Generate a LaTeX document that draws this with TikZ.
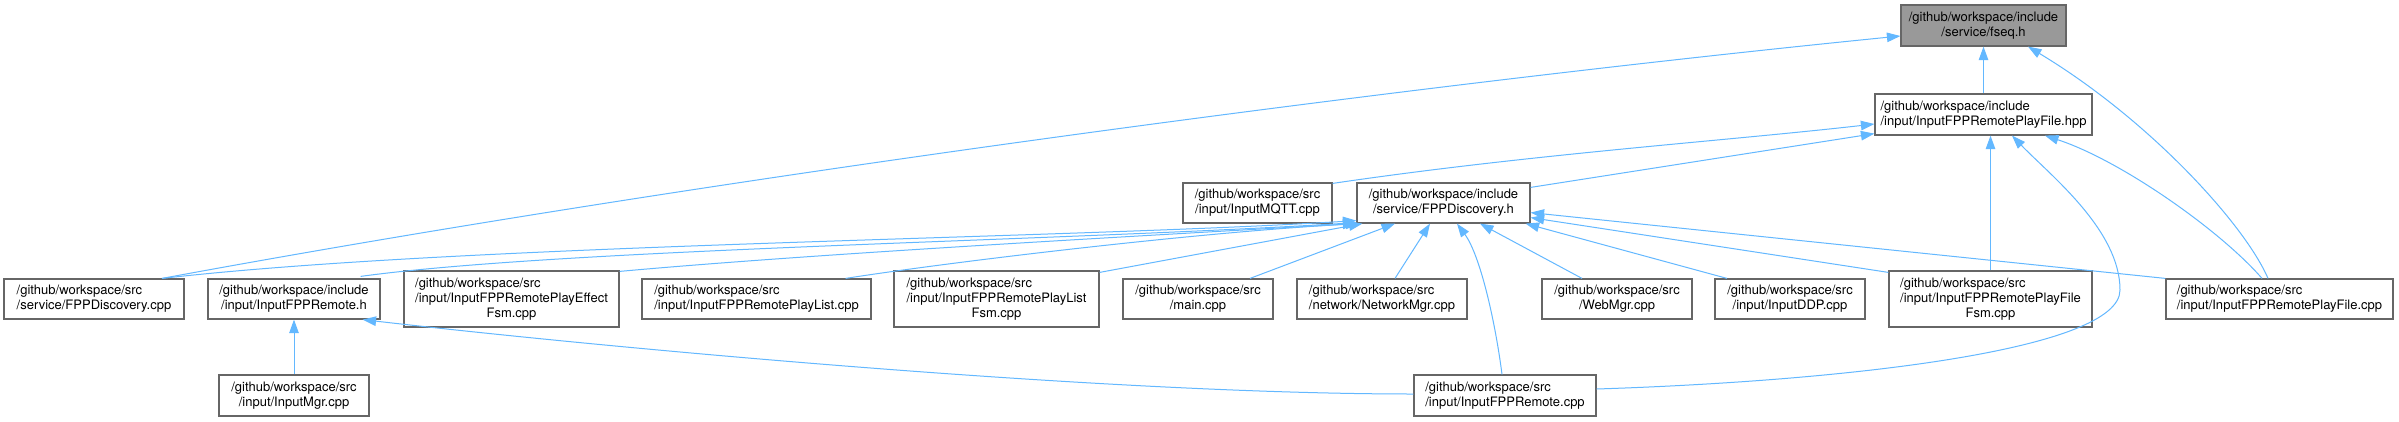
\documentclass[tikz,border=0pt]{standalone}
\usepackage{fontspec}
\setmainfont{TeX Gyre Heros}
\usetikzlibrary{arrows.meta,calc}
\definecolor{edgeblue}{HTML}{63B8FF}
\definecolor{boxgray}{HTML}{666666}
\definecolor{fillgray}{HTML}{999999}
\begin{document}
\begin{tikzpicture}[x=1pt,y=-1pt,
  file/.style={draw=boxgray, line width=1.2pt, fill=white, inner sep=0pt,
    minimum height=40pt, font=\fontsize{13}{15}\selectfont},
  lft/.style={file, align=left},
  ctr/.style={file, align=center},
  inc/.style={draw=edgeblue, line width=1pt, -{Triangle[length=13.5pt,width=9.5pt]}}
]
\useasboundingbox (0,0) rectangle (2399,421);
\fill[white] (0,0) rectangle (2399,421);

% nodes
\node[ctr, fill=fillgray, minimum width=165pt, minimum height=41pt] (fseq) at (1983.5,25.5) {/github/workspace/include\\/service/fseq.h};
\node[lft, minimum width=217pt, minimum height=41pt] (hpp) at (1983.5,114.5) {/github/workspace/include\\/input/InputFPPRemotePlayFile.hpp};
\node[ctr, minimum width=149pt] (mqtt) at (1257.5,203) {/github/workspace/src\\/input/InputMQTT.cpp};
\node[ctr, minimum width=173pt] (disch) at (1443.5,203) {/github/workspace/include\\/service/FPPDiscovery.h};
\node[lft, minimum width=180pt] (disccpp) at (94,299) {/github/workspace/src\\/service/FPPDiscovery.cpp};
\node[ctr, minimum width=172pt] (remoteh) at (294,299) {/github/workspace/include\\/input/InputFPPRemote.h};
\node[file, minimum width=215pt, minimum height=56pt] (effect) at (511.5,299) {\begin{tabular}{@{}l@{}}/github/workspace/src\\/input/InputFPPRemotePlayEffect\\\multicolumn{1}{@{}c@{}}{Fsm.cpp}\end{tabular}};
\node[lft, minimum width=229pt] (playlist) at (756.5,299) {/github/workspace/src\\/input/InputFPPRemotePlayList.cpp};
\node[file, minimum width=205pt, minimum height=56pt] (playlistfsm) at (996.5,299) {\begin{tabular}{@{}l@{}}/github/workspace/src\\/input/InputFPPRemotePlayList\\\multicolumn{1}{@{}c@{}}{Fsm.cpp}\end{tabular}};
\node[ctr, minimum width=150pt] (main) at (1198,299) {/github/workspace/src\\/main.cpp};
\node[lft, minimum width=170pt] (netmgr) at (1382,299) {/github/workspace/src\\/network/NetworkMgr.cpp};
\node[ctr, minimum width=150pt] (webmgr) at (1617,299) {/github/workspace/src\\/WebMgr.cpp};
\node[ctr, minimum width=150pt] (ddp) at (1790,299) {/github/workspace/src\\/input/InputDDP.cpp};
\node[file, minimum width=203pt, minimum height=56pt] (playfilefsm) at (1990.5,299) {\begin{tabular}{@{}l@{}}/github/workspace/src\\/input/InputFPPRemotePlayFile\\\multicolumn{1}{@{}c@{}}{Fsm.cpp}\end{tabular}};
\node[lft, minimum width=227pt] (playfile) at (2279.5,299) {/github/workspace/src\\/input/InputFPPRemotePlayFile.cpp};
\node[ctr, minimum width=150pt, minimum height=41pt] (inputmgr) at (294,395.5) {/github/workspace/src\\/input/InputMgr.cpp};
\node[lft, minimum width=182pt, minimum height=41pt] (remotecpp) at (1505,395.5) {/github/workspace/src\\/input/InputFPPRemote.cpp};

% edges to fseq.h
\draw[inc] (hpp.north) -- (fseq.south);
\draw[inc] ($(disccpp.north)+(68,0)$) .. controls (700,179) and (1400,86) .. ($(fseq.west)+(0,10.5)$);
\draw[inc] ($(playfile.north)+(-11.5,0)$) .. controls (2245,225) and (2150,120) .. ($(fseq.south)+(44.5,0)$);

% edges to InputFPPRemotePlayFile.hpp
\draw[inc] ($(mqtt.north east)+(0,1)$) .. controls (1532,154) and (1725,141) .. ($(hpp.west)+(0,9.5)$);
\draw[inc] ($(disch.north east)+(0,5)$) -- ($(hpp.south west)+(0,-2)$);
\draw[inc] (playfilefsm.north) -- (playfilefsm.north |- hpp.south);
\draw[inc] ($(remotecpp.east)+(0,-6.5)$) .. controls (1846,381) and (2120,350) .. (2120,290)
  .. controls (2120,230) and (2050,175) .. ($(hpp.south)+(28.5,0)$);
\draw[inc] ($(playfile.north)+(-17.5,0)$) .. controls (2220,230) and (2120,160) .. ($(hpp.south)+(61.5,0)$);

% edges to FPPDiscovery.h
\draw[inc] ($(disccpp.north)+(68,0)$) .. controls (462,244) and (1057,239) .. ($(disch.south west)+(0,-3)$);
\draw[inc] ($(remoteh.north east)+(-20,-2)$) .. controls (560,249) and (1057,241) .. ($(disch.south west)+(0,-1)$);
\draw[inc] ($(effect.north east)+(0,1)$) .. controls (800,255) and (1100,238) .. (disch.south west);
\draw[inc] ($(playlist.north east)+(-26,0)$) .. controls (950,262) and (1200,232) .. ($(disch.south west)+(3,0)$);
\draw[inc] ($(playlistfsm.north east)+(0,2)$) -- ($(disch.south west)+(6,0)$);
\draw[inc] ($(main.north)+(52,0)$) -- ($(disch.south)+(-48.5,0)$);
\draw[inc] ($(netmgr.north)+(13,0)$) -- ($(disch.south)+(-13.5,0)$);
\draw[inc] ($(remotecpp.north)+(-3,0)$) .. controls (1495,320) and (1480,255) .. ($(disch.south)+(13.5,0)$);
\draw[inc] ($(webmgr.north)+(-35,0)$) -- ($(disch.south)+(36.5,0)$);
\draw[inc] ($(ddp.north)+(-63,0)$) -- ($(disch.south east)+(-5,0)$);
\draw[inc] ($(playfilefsm.north west)+(0,2)$) -- ($(disch.south east)+(0,-6)$);
\draw[inc] (playfile.north west) -- ($(disch.south east)+(0,-11)$);

% edges to InputFPPRemote.h
\draw[inc] (inputmgr.north) -- (remoteh.south);
\draw[inc] ($(remotecpp.west)+(0,-1.5)$) .. controls (1100,394) and (600,347) .. ($(remoteh.south east)+(-18,0)$);
\end{tikzpicture}
\end{document}
